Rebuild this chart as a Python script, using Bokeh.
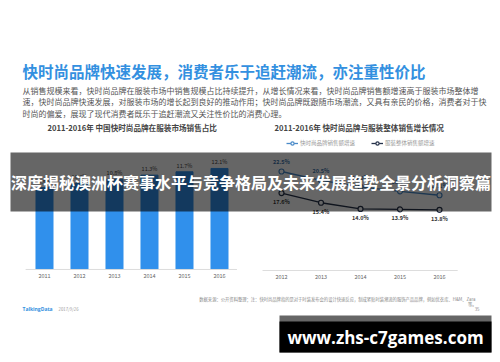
from bokeh.plotting import figure
from bokeh.models import Range1d, Legend, LegendItem
from bokeh.core.properties import value
from bokeh.embed import file_html
from bokeh.resources import INLINE

# ---------------- data ----------------
bar_years = [2011, 2012, 2013, 2014, 2015, 2016]
bar_share = [9.8, 10.3, 10.8, 11.3, 11.7, 12.1]          # % share of apparel market
line_years = [2012, 2013, 2014, 2015, 2016]
fast_growth = [22.5, 20.5, 19.0, 18.0, 17.1]              # fast-fashion sales growth %
apparel_growth = [17.6, 15.4, 14.0, 13.9, 13.8]           # overall apparel sales growth %

title = "快时尚品牌快速发展，消费者乐于追赶潮流，亦注重性价比"
body = [
    "从销售规模来看，快时尚品牌在服装市场中销售规模占比持续提升，从增长情况来看，快时尚品牌销售额增速高于服装市场整体增",
    "速，快时尚品牌快速发展，对服装市场的增长起到良好的推动作用；快时尚品牌既跟随市场潮流，又具有亲民的价格，消费者对于快",
    "时尚的偏爱，展现了现代消费者既乐于追赶潮流又关注性价比的消费心理。",
]
left_sub = "2011-2016年 中国快时尚品牌在服装市场销售占比"
right_sub = "2011-2016年 快时尚品牌与服装整体销售增长情况"
legend_labels = ["快时尚品牌销售额增速", "服装整体销售额增速"]
source = "数据来源：公开资料整理；注：快时尚品牌指的是对于时装发布会的设计快速反应，制成紧贴时装潮流的服饰产品品牌，例如优衣库、H&M、Zara"
banner = "深度揭秘澳洲杯赛事水平与竞争格局及未来发展趋势全景分析洞察篇"
site = "www.zhs-c7games.com"

CJK = value("Noto Sans CJK SC")
BAR_BLUE = "#3090EC"
FAST_C = "#4A8AC8"
APP_C = "#26324A"

W, H = 500, 362
p = figure(width=W, height=H, x_range=Range1d(0, W), y_range=Range1d(H, 0),
           output_backend="svg", toolbar_location=None, min_border=0,
           x_axis_location=None, y_axis_location=None, outline_line_color=None,
           background_fill_color="white", border_fill_color="white")
p.grid.visible = False

# chart ranges (pixel-to-value mapping of each sub chart)
p.extra_x_ranges = {"bx": Range1d(2009.743, 2009.743 + W / 35.0),
                    "lx": Range1d(2004.886, 2004.886 + W / 39.5)}
p.extra_y_ranges = {"by": Range1d(-11.14, -11.14 + H / 8.35),
                    "ly": Range1d(-20.91, -20.91 + H / 4.4)}

# ---------------- header texts ----------------
p.text(x=[22], y=[70], text=[title], text_font=CJK, text_font_size="15.5px",
       text_font_style="bold", text_color="#3390E0", text_baseline="middle")
p.text(x=[22] * 3, y=[90, 101, 113], text=body, text_font=CJK, text_font_size="8px",
       text_color="#555555", text_baseline="middle")
p.text(x=[47, 274], y=[127, 127], text=[left_sub, right_sub], text_font=CJK,
       text_font_size="7.6px", text_font_style="bold", text_color="#444444",
       text_baseline="middle")

# ---------------- bar chart ----------------
p.vbar(x=bar_years, top=bar_share, bottom=0, width=0.486, color=BAR_BLUE,
       x_range_name="bx", y_range_name="by")
p.text(x=bar_years, y=bar_share, text=[f"{v}%" for v in bar_share],
       x_range_name="bx", y_range_name="by", y_offset=-2, text_align="center",
       text_baseline="bottom", text_font=CJK, text_font_size="5.5px", text_color="#444444")
p.line(x=[bar_years[0] - 0.54, bar_years[-1] + 0.5], y=[0, 0], line_color="#dddddd",
       line_width=1, x_range_name="bx", y_range_name="by")
p.text(x=bar_years, y=[0] * len(bar_years), text=[str(y) for y in bar_years],
       x_range_name="bx", y_range_name="by", y_offset=4, text_align="center",
       text_baseline="top", text_font=CJK, text_font_size="5.5px", text_color="#666666")

# ---------------- line chart ----------------
r1 = p.line(x=line_years, y=fast_growth, line_color=FAST_C, line_width=1.3,
            x_range_name="lx", y_range_name="ly")
s1 = p.scatter(x=line_years, y=fast_growth, marker="circle", size=5, line_color=FAST_C,
               fill_color="white", line_width=1.2, x_range_name="lx", y_range_name="ly")
r2 = p.line(x=line_years, y=apparel_growth, line_color=APP_C, line_width=1.3,
            x_range_name="lx", y_range_name="ly")
s2 = p.scatter(x=line_years, y=apparel_growth, marker="circle", size=5, line_color=APP_C,
               fill_color="white", line_width=1.2, x_range_name="lx", y_range_name="ly")
p.text(x=line_years, y=fast_growth, text=[f"{v}%" for v in fast_growth],
       x_range_name="lx", y_range_name="ly", y_offset=-5, text_align="center",
       text_baseline="bottom", text_font=CJK, text_font_size="5.5px",
       text_font_style="bold", text_color="#3E74AA")
p.text(x=line_years, y=apparel_growth, text=[f"{v}%" for v in apparel_growth],
       x_range_name="lx", y_range_name="ly", y_offset=5, text_align="center",
       text_baseline="top", text_font=CJK, text_font_size="5.5px",
       text_font_style="bold", text_color="#333333")
p.line(x=[line_years[0] - 0.48, line_years[-1] + 0.46], y=[0, 0], line_color="#dddddd",
       line_width=1, x_range_name="lx", y_range_name="ly")
p.text(x=line_years, y=[0] * len(line_years), text=[str(y) for y in line_years],
       x_range_name="lx", y_range_name="ly", y_offset=4, text_align="center",
       text_baseline="top", text_font=CJK, text_font_size="5.5px", text_color="#666666")

legend = Legend(items=[LegendItem(label=legend_labels[0], renderers=[r1, s1]),
                       LegendItem(label=legend_labels[1], renderers=[r2, s2])],
                location=(286, 215), orientation="horizontal", padding=0, margin=0,
                spacing=16, label_standoff=2, glyph_width=12, glyph_height=8,
                label_height=8, label_text_font_size="5.5px", label_text_font="Noto Sans CJK SC",
                label_text_color="#999999", background_fill_alpha=0, border_line_color=None)
p.add_layout(legend)

# ---------------- footer ----------------
p.text(x=[22], y=[308], text=["TalkingData"], text_font=value("Open Sans"),
       text_font_size="5px", text_font_style="bold", text_color="#3390E0", text_baseline="middle")
p.text(x=[58], y=[308], text=["2017/9/26"], text_font=CJK, text_font_size="4.3px",
       text_color="#999999", text_baseline="middle")
p.text(x=[475], y=[298], text=[source], text_font=CJK, text_font_size="4.3px",
       text_color="#888888", text_baseline="middle", text_align="right")
p.text(x=[476, 479], y=[303, 308], text=["等。", "35"], text_font=CJK, text_font_size="4.3px",
       text_color="#888888", text_baseline="middle", text_align="right")

# ---------------- overlay banners ----------------
p.quad(left=[10], right=[491], top=[152], bottom=[211], fill_color="black",
       fill_alpha=0.6, line_color=None)
p.text(x=[250.5], y=[181.5], text=[banner], text_font=CJK, text_font_size="16px",
       text_font_style="bold", text_color="white", text_align="center", text_baseline="middle")
p.quad(left=[279], right=[491], top=[315], bottom=[352], fill_color="#666666", line_color=None)
p.quad(left=[279], right=[491], top=[321], bottom=[352], fill_color="black", line_color=None)
p.text(x=[385], y=[337], text=[site], text_font=value("Open Sans"), text_font_size="17px",
       text_font_style="bold", text_color="white", text_align="center", text_baseline="middle")

open("out.html", "w").write(file_html(p, INLINE))
